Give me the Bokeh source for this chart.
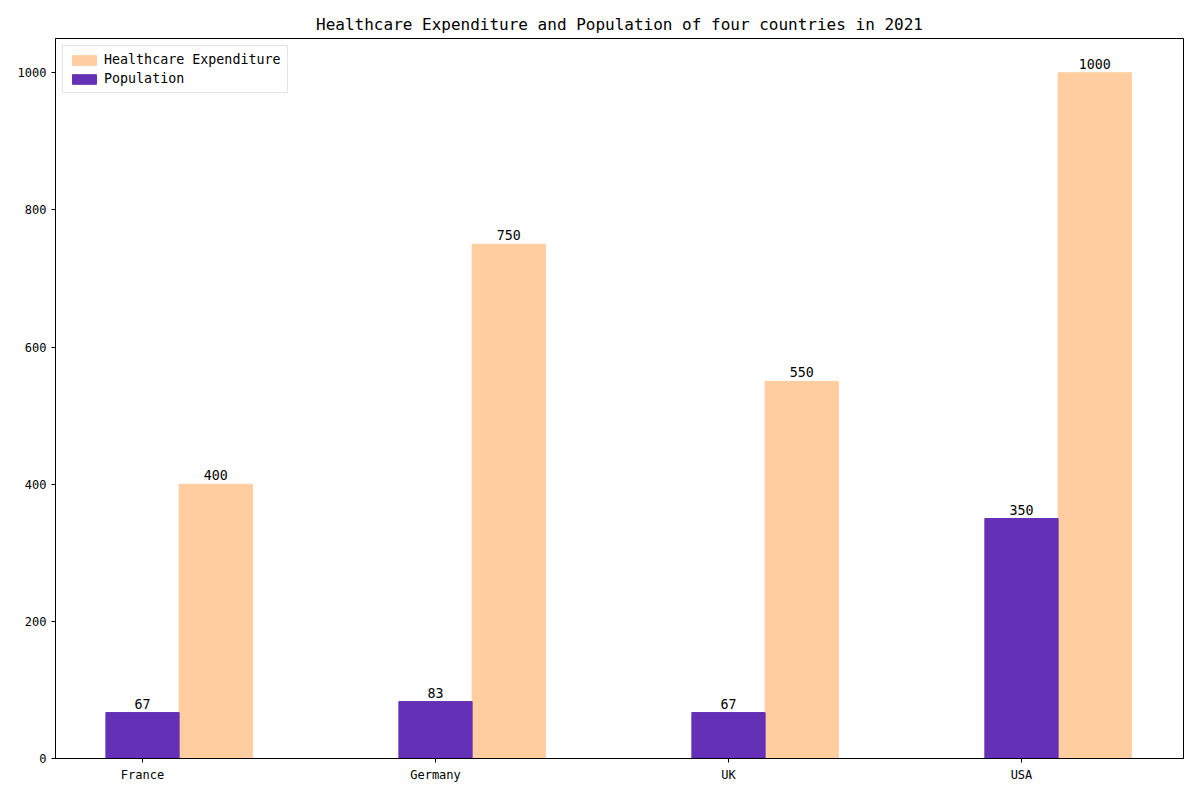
from bokeh.models import ColumnDataSource, Range1d, FixedTicker, Legend, LegendItem
from bokeh.plotting import figure
from bokeh.embed import file_html
from bokeh.resources import INLINE

countries = ["France", "Germany", "UK", "USA"]
population = [67, 83, 67, 350]
expenditure = [400, 750, 550, 1000]

FONT = "DejaVu Sans Mono"
idx = list(range(len(countries)))
pop_x = [i for i in idx]
exp_x = [i + 0.25 for i in idx]

p = figure(
    width=1184, height=784,
    x_range=Range1d(-0.297, 3.553), y_range=Range1d(0, 1050),
    output_backend="svg", toolbar_location=None, tools="",
    title="Healthcare Expenditure and Population of four countries in 2021",
    min_border_left=55, min_border_right=1, min_border_top=38, min_border_bottom=22,
)
p.title.align = "center"
p.title.text_font = FONT
p.title.text_font_size = "12pt"
p.title.text_font_style = "normal"
p.title.text_color = "black"

src = ColumnDataSource(dict(
    px=pop_x, ex=exp_x, pop=population, exp=expenditure,
    pop_lbl=[str(v) for v in population], exp_lbl=[str(v) for v in expenditure],
))
r_exp = p.vbar(x="ex", top="exp", width=0.25, source=src, color="#ffcd9f")
r_pop = p.vbar(x="px", top="pop", width=0.25, source=src, color="#6430b6")

for xcol, ycol, lcol in [("px", "pop", "pop_lbl"), ("ex", "exp", "exp_lbl")]:
    p.text(x=xcol, y=ycol, text=lcol, source=src, text_align="center",
           text_baseline="bottom", y_offset=-4, text_font_size="10pt",
           text_font={"value": FONT}, text_color="black")

p.xaxis.ticker = FixedTicker(ticks=pop_x)
p.xaxis.major_label_overrides = {i: c for i, c in zip(idx, countries)}
p.yaxis.ticker = FixedTicker(ticks=[0, 200, 400, 600, 800, 1000])
p.xgrid.visible = False
p.ygrid.visible = False
for ax in (p.xaxis, p.yaxis):
    ax.major_label_text_font = FONT
    ax.major_label_text_font_size = "9pt"
    ax.major_label_text_color = "black"
    ax.minor_tick_line_color = None
    ax.major_tick_in = 0
    ax.major_tick_out = 4
p.outline_line_color = "black"

legend = Legend(items=[
    LegendItem(label="Healthcare Expenditure", renderers=[r_exp]),
    LegendItem(label="Population", renderers=[r_pop]),
], location="top_left")
legend.label_text_font = FONT
legend.label_text_font_size = "10pt"
legend.label_text_color = "black"
legend.border_line_color = "#cccccc"
legend.spacing = 4
legend.padding = 6
legend.margin = 7
legend.glyph_height = 12
legend.glyph_width = 30
legend.label_height = 14
p.add_layout(legend)

open("out.html", "w").write(file_html(p, INLINE))
